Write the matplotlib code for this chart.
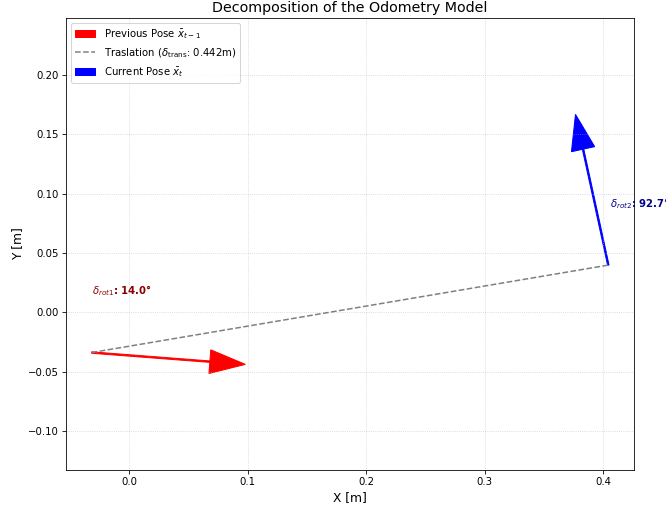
import numpy as np
import matplotlib
matplotlib.use("Agg")
import matplotlib.pyplot as plt

# previous pose (x, y, theta in degrees)
prev_x = -0.0315
prev_y = -0.034
prev_theta_deg = -4.4

# odometry decomposition
rot1_deg = 14.0
trans = 0.442
rot2_deg = 92.7

arrow_len = 0.1

# current pose from the odometry model
trans_dir = np.radians(prev_theta_deg + rot1_deg)
cur_x = prev_x + trans * np.cos(trans_dir)
cur_y = prev_y + trans * np.sin(trans_dir)
cur_theta = trans_dir + np.radians(rot2_deg)
prev_theta = np.radians(prev_theta_deg)

dpi = 73.3
fig = plt.figure(figsize=(666 / dpi, 508 / dpi), dpi=dpi)
ax = fig.add_axes([0.099, 0.0748, 0.853, 0.8898])

ax.arrow(prev_x, prev_y, arrow_len * np.cos(prev_theta), arrow_len * np.sin(prev_theta),
         width=0.0012, head_width=0.02, head_length=0.03, fc='red', ec='red',
         label=r'Previous Pose $\bar{x}_{t-1}$')
ax.plot([prev_x, cur_x], [prev_y, cur_y], '--', color='gray', linewidth=1.5,
        label=r'Traslation ($\delta_{\mathrm{trans}}$: %.3fm)' % trans)
ax.arrow(cur_x, cur_y, arrow_len * np.cos(cur_theta), arrow_len * np.sin(cur_theta),
         width=0.0012, head_width=0.02, head_length=0.03, fc='blue', ec='blue',
         label=r'Current Pose $\bar{x}_t$')

ax.text(prev_x, prev_y + 0.052, r'$\delta_{rot1}$: %.1f°' % rot1_deg,
        color='darkred', fontsize=10, fontweight='bold', ha='left', va='center')
ax.text(cur_x + 0.001, cur_y + 0.052, r'$\delta_{rot2}$: %.1f°' % rot2_deg,
        color='darkblue', fontsize=10, fontweight='bold', ha='left', va='center')

ax.set_xlim(-0.0532, 0.426)
ax.set_ylim(-0.133, 0.248)
ax.set_title('Decomposition of the Odometry Model', fontsize=14)
ax.set_xlabel('X [m]', fontsize=12)
ax.set_ylabel('Y [m]', fontsize=12)
ax.grid(True, linestyle=':', alpha=0.6)
ax.legend(loc='upper left', fontsize=10)

fig.savefig('out.png', dpi=dpi)
